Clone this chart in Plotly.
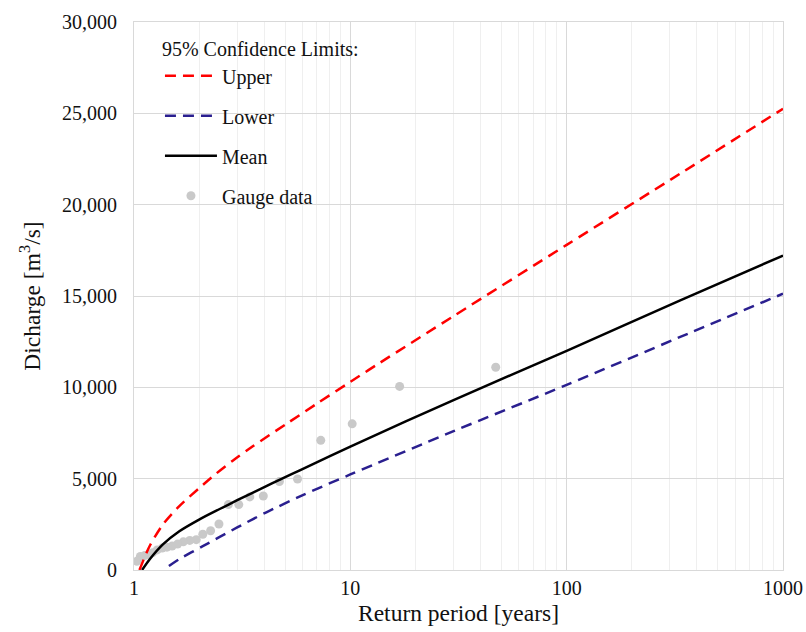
import plotly.graph_objects as go

# ---- data ----
upper_T = [1.06, 1.18, 1.36, 1.62, 2.0, 2.4, 2.87, 3.54, 5.05, 6.95, 10, 13.6, 30, 100, 335, 1000]
upper_Q = [0, 1300, 2490, 3500, 4480, 5280, 6000, 6770, 7990, 9080, 10300, 11320, 13900, 17800, 21700, 25250]

lower_T = [1.45, 1.62, 2.07, 2.49, 3.0, 3.55, 4.09, 6.03, 10, 30, 100, 335, 1000]
lower_Q = [220, 600, 1290, 1810, 2330, 2790, 3160, 4100, 5230, 7600, 10134, 12760, 15125]

mean_T = [1.09, 1.18, 1.36, 1.62, 2.0, 2.49, 3.0, 4.09, 4.7, 5.84, 10, 30, 100, 335, 1000]
mean_Q = [0, 575, 1400, 2120, 2760, 3340, 3820, 4590, 4930, 5460, 6760, 9300, 12000, 14760, 17215]

gauge_T = [47, 16.9, 10.2, 7.3, 5.7, 4.7, 3.96, 3.43, 3.05, 2.73, 2.47, 2.26, 2.08,
           1.94, 1.81, 1.69, 1.59, 1.50, 1.42, 1.35, 1.28, 1.22, 1.17, 1.12, 1.07, 1.03]
gauge_Q = [11100, 10050, 8000, 7100, 4980, 4840, 4050, 4000, 3580, 3580, 2520, 2150, 1960,
           1660, 1620, 1540, 1420, 1310, 1250, 1200, 1100, 950, 860, 790, 740, 480]

x_tickvals = [1, 10, 100, 1000]
x_ticktext = ["1", "10", "100", "1000"]
y_tickvals = [0, 5000, 10000, 15000, 20000, 25000, 30000]

FONT = "Times New Roman, Liberation Serif, serif"
GRID = "#d9d9d9"
TXT = "#111111"

fig = go.Figure()

fig.add_trace(go.Scatter(
    x=gauge_T, y=gauge_Q, mode="markers", name="Gauge data",
    marker=dict(color="#c9c9c9", size=9), legendrank=4, legendgroup="g4"))
fig.add_trace(go.Scatter(
    x=upper_T, y=upper_Q, mode="lines", name="Upper",
    line=dict(color="#ff0000", width=2.5, dash="11px,7px", shape="spline", smoothing=0.8),
    legendrank=1, legendgroup="g1"))
fig.add_trace(go.Scatter(
    x=lower_T, y=lower_Q, mode="lines", name="Lower",
    line=dict(color="#2a1f8f", width=2.5, dash="11px,7px", shape="spline", smoothing=0.8),
    legendrank=2, legendgroup="g2"))
fig.add_trace(go.Scatter(
    x=mean_T, y=mean_Q, mode="lines", name="Mean",
    line=dict(color="#000000", width=2.5, shape="spline", smoothing=0.8),
    legendrank=3, legendgroup="g3"))

fig.update_layout(
    width=806, height=632,
    margin=dict(l=134, r=23, t=22, b=62),
    paper_bgcolor="white", plot_bgcolor="white",
    font=dict(family=FONT, size=20, color=TXT),
    showlegend=True,
    legend=dict(
        title=dict(text="95% Confidence Limits:", font=dict(family=FONT, size=20, color=TXT)),
        x=0.04, y=0.985, xanchor="left", yanchor="top",
        bgcolor="rgba(0,0,0,0)", borderwidth=0,
        tracegroupgap=11, itemwidth=52,
        font=dict(family=FONT, size=20, color=TXT)),
    xaxis=dict(
        type="log", range=[0, 3], automargin=False,
        tickvals=x_tickvals, ticktext=x_ticktext,
        showgrid=True, gridcolor=GRID, gridwidth=1,
        minor=dict(showgrid=True, gridcolor="#efefef", dtick="D1", ticks=""),
        showline=True, linecolor=GRID, linewidth=1, mirror=True,
        zeroline=False, ticks="",
        title=dict(text="Return period [years]", font=dict(family=FONT, size=23.5, color=TXT), standoff=6),
        tickfont=dict(family=FONT, size=20, color=TXT)),
    yaxis=dict(
        range=[0, 30000], tickvals=y_tickvals, tickformat=",d", automargin=False,
        showgrid=True, gridcolor=GRID, gridwidth=1,
        showline=True, linecolor=GRID, linewidth=1, mirror=True,
        zeroline=False, ticks="", ticklabelstandoff=12,
        title=dict(text="Dicharge [m<sup>3</sup>/s]", font=dict(family=FONT, size=23.5, color=TXT), standoff=14),
        tickfont=dict(family=FONT, size=20, color=TXT)),
)

fig.write_html("out.html", config={"displayModeBar": False},
               post_script="document.body.style.margin='0px';")
